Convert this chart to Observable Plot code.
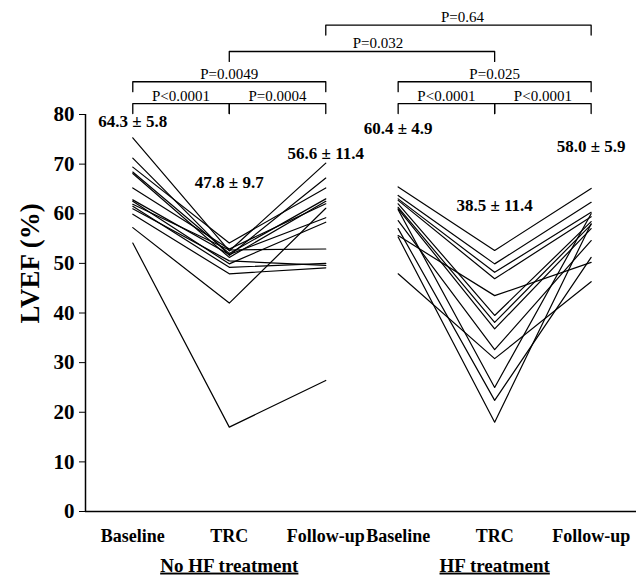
<!DOCTYPE html>
<html><head><meta charset="utf-8">
<script src="https://cdn.jsdelivr.net/npm/d3@7"></script>
<script src="https://cdn.jsdelivr.net/npm/@observablehq/plot@0.6"></script>
<style>html,body{margin:0;padding:0;background:#fff}#chart svg{display:block}</style>
</head><body><div id="chart"></div>
<script>
// ---- data ----
const groups = ["No HF treatment", "HF treatment"];
const timepoints = ["Baseline", "TRC", "Follow-up"];

const noHFBaseline = [75.3, 71.2, 69.4, 68.4, 68.1, 65.2, 62.8, 62.5, 61.9, 61.5, 61.0, 59.9, 57.2, 54.1];
const noHFTRC      = [52.5, 51.6, 54.1, 52.0, 51.2, 52.9, 51.8, 49.9, 52.7, 49.2, 50.5, 47.9, 42.0, 17.0];
const noHFFollowUp = [70.2, 67.2, 65.2, 63.0, 62.5, 62.0, 59.2, 58.3, 52.9, 50.0, 49.6, 49.1, 61.1, 26.4];

const hfBaseline = [65.4, 63.7, 63.0, 62.7, 55.6, 62.0, 61.3, 61.0, 58.6, 47.9, 60.8, 57.0, 55.3];
const hfTRC      = [52.6, 49.9, 48.2, 46.9, 43.5, 39.5, 38.1, 36.8, 32.6, 30.8, 25.0, 22.4, 18.0];
const hfFollowUp = [65.1, 62.3, 60.3, 59.4, 50.2, 58.4, 57.8, 57.0, 54.6, 46.3, 60.0, 51.2, 58.0];

const statLabels = ["64.3 ± 5.8", "47.8 ± 9.7", "56.6 ± 11.4", "60.4 ± 4.9", "38.5 ± 11.4", "58.0 ± 5.9"];
const statLevels = [78.6, 66.2, 72.2, 77.2, 61.7, 73.5];

const cmpLabels = ["P<0.0001", "P=0.0004", "P<0.0001", "P<0.0001", "P=0.0049", "P=0.025", "P=0.032", "P=0.64"];
const cmpFrom = [[0,0],[0,1],[1,0],[1,1],[0,0],[1,0],[0,1],[0,2]];
const cmpTo   = [[0,1],[0,2],[1,1],[1,2],[0,2],[1,2],[1,1],[1,2]];
const cmpTier = [0, 0, 0, 0, 1, 1, 2, 3];

const yTicks = [0, 10, 20, 30, 40, 50, 60, 70, 80];
const yTitle = "LVEF (%)";

// ---- build tables ----
const groupGap = 2.75;
const xpos = (g, t) => g * groupGap + t;

const series = [
  [noHFBaseline, noHFTRC, noHFFollowUp],
  [hfBaseline, hfTRC, hfFollowUp]
];
const lineRows = [];
series.forEach((cols, g) => {
  cols[0].forEach((_, i) => {
    cols.forEach((col, t) => lineRows.push({id: g + "-" + i, g, t, value: col[i]}));
  });
});

const catRows = groups.flatMap((grp, g) => timepoints.map((tp, t) => ({g, t, label: tp})));
const groupRows = groups.map((grp, g) => ({g, t: 1, label: grp}));
const statRows = statLabels.map((s, k) => ({g: Math.floor(k / 3), t: k % 3, label: s, level: statLevels[k]}));

const tierTop = [82.2, 86.6, 92.7, 98.0];
const tickLen = 2.0;
const bracketPts = cmpLabels.flatMap((lab, i) => {
  const x1 = xpos(...cmpFrom[i]), x2 = xpos(...cmpTo[i]), top = tierTop[cmpTier[i]];
  return [
    {i, x: x1, y: top - tickLen}, {i, x: x1, y: top},
    {i, x: x2, y: top}, {i, x: x2, y: top - tickLen}
  ];
});
const cmpRows = cmpLabels.map((lab, i) => ({
  i, label: lab,
  x: (xpos(...cmpFrom[i]) + xpos(...cmpTo[i])) / 2,
  y: tierTop[cmpTier[i]]
}));

const xMin = -0.49, xMax = 5.22;
const bold = "bold";

const chart = Plot.plot({
  width: 638,
  height: 575,
  marginLeft: 85,
  marginRight: 2,
  marginTop: 114,
  marginBottom: 64,
  style: {fontFamily: "'Liberation Serif', 'Times New Roman', serif", background: "#fff", color: "#000"},
  x: {domain: [xMin, xMax], axis: null},
  y: {domain: [0, 80], axis: null},
  marks: [
    Plot.ruleY([0], {stroke: "#000", strokeWidth: 1.5}),
    Plot.ruleX([xMin], {y1: 0, y2: 80, stroke: "#000", strokeWidth: 1.5}),
    Plot.axisY({ticks: yTicks, anchor: "left", tickSize: 6, tickPadding: 5, fontSize: 21, fontWeight: bold, label: null}),
    Plot.text([yTitle], {frameAnchor: "left", textAnchor: "middle", y: () => 50, text: d => d, rotate: -90, dx: -55, fontSize: 27, fontWeight: bold}),
    Plot.line(lineRows, {x: d => xpos(d.g, d.t), y: "value", z: "id", stroke: "#000", strokeWidth: 1.2}),
    Plot.text(catRows, {x: d => xpos(d.g, d.t), y: () => 0, text: "label", dy: 25, fontSize: 18, fontWeight: bold}),
    Plot.text(groupRows, {x: d => xpos(d.g, d.t), y: () => 0, text: "label", dy: 54, fontSize: 19, fontWeight: bold}),
    Plot.text(statRows, {x: d => xpos(d.g, d.t), y: "level", text: "label", fontSize: 17, fontWeight: bold}),
    Plot.line(bracketPts, {x: "x", y: "y", z: "i", stroke: "#000", strokeWidth: 1.3}),
    Plot.text(cmpRows.filter(d => d.i < 6), {x: "x", y: "y", text: "label", lineAnchor: "bottom", dy: -3, fontSize: 15}),
    Plot.text(cmpRows.filter(d => d.i === 6), {x: "x", y: "y", text: "label", lineAnchor: "bottom", dy: -3, dx: 16, fontSize: 15}),
    Plot.text(cmpRows.filter(d => d.i === 7), {x: "x", y: "y", text: "label", lineAnchor: "bottom", dy: -3, dx: 4, fontSize: 15})
  ]
});

d3.select(chart).selectAll("text")
  .filter(function() { return groups.includes(this.textContent); })
  .attr("text-decoration", "underline");

document.getElementById("chart").appendChild(chart);
</script>
</body></html>
